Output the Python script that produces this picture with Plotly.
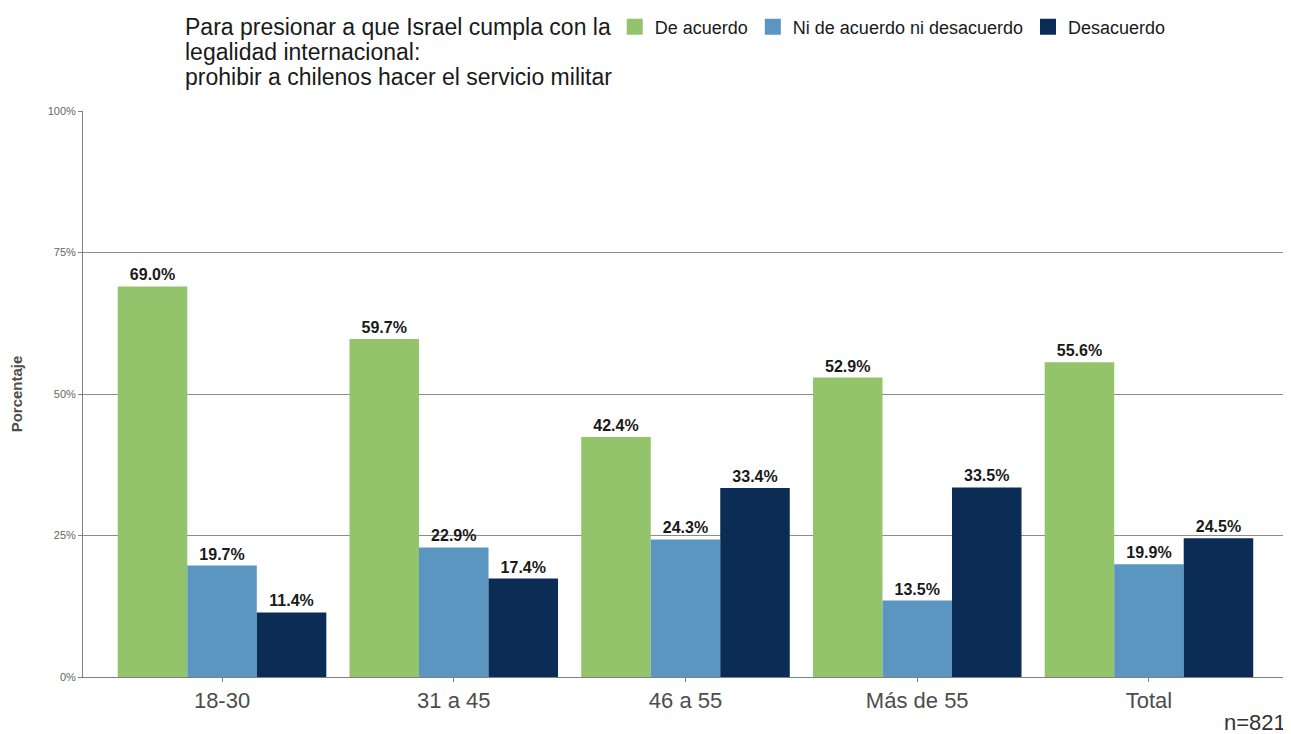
import plotly.graph_objects as go

categories = ["18-30", "31 a 45", "46 a 55", "Más de 55", "Total"]
series_names = ["De acuerdo", "Ni de acuerdo ni desacuerdo", "Desacuerdo"]
de_acuerdo = [69.0, 59.7, 42.4, 52.9, 55.6]
ni_ni = [19.7, 22.9, 24.3, 13.5, 19.9]
desacuerdo = [11.4, 17.4, 33.4, 33.5, 24.5]
colors = ["#93C36B", "#5B96C0", "#0A2C55"]
y_ticks = [0, 25, 50, 75, 100]
y_ticklabels = ["0%", "25%", "50%", "75%", "100%"]
title_lines = ["Para presionar a que Israel cumpla con la",
               "legalidad internacional:",
               "prohibir a chilenos hacer el servicio militar"]

fig = go.Figure()
for name, vals, col in zip(series_names, [de_acuerdo, ni_ni, desacuerdo], colors):
    fig.add_trace(go.Bar(
        x=categories, y=vals, name=name, marker_color=col, marker_line_width=0,
        text=[f"{v:.1f}%" for v in vals], textposition="outside",
        textfont=dict(family="Arial", size=16, color="#1a1a1a", weight="bold"),
        cliponaxis=False, showlegend=False,
    ))
# legend proxies (square swatches)
for name, col in zip(series_names, colors):
    fig.add_trace(go.Scatter(
        x=[None], y=[None], mode="markers", name=name,
        marker=dict(symbol="square", size=20, color=col),
    ))

annotations = []
for i, line in enumerate(title_lines):
    annotations.append(dict(text=line, xref="paper", yref="paper", x=0.083,
                            y=1.148 - i * 0.0442, yanchor="middle", xanchor="left",
                            align="left", showarrow=False,
                            font=dict(size=23, color="#1a1a1a")))
annotations.append(dict(text="n=821", xref="paper", yref="paper", x=1.0, y=-0.081,
                        xanchor="right", yanchor="middle", showarrow=False,
                        font=dict(size=22, color="#333333")))

fig.update_layout(
    width=1291, height=734,
    paper_bgcolor="white", plot_bgcolor="white",
    margin=dict(l=75, r=11, t=103, b=65, autoexpand=False),
    barmode="group", bargap=0.1, bargroupgap=0,
    font=dict(family="Arial", color="#333333"),
    legend=dict(orientation="h", xref="container", yref="container",
                x=0.470, xanchor="left", y=0.974, yanchor="middle",
                font=dict(size=18, color="#1a1a1a"), itemsizing="trace",
                traceorder="normal", bgcolor="rgba(0,0,0,0)"),
    xaxis=dict(range=[-0.6, 4.6], showline=True, linecolor="#808080", linewidth=1,
               ticks="outside", ticklen=4, tickcolor="#808080", automargin=False,
               tickfont=dict(size=22, color="#4d4d4d"), showgrid=False),
    yaxis=dict(range=[0, 100], tickvals=y_ticks, ticktext=y_ticklabels,
               showline=True, linecolor="#808080", linewidth=1, automargin=False,
               ticks="outside", ticklen=4, tickcolor="#808080",
               tickfont=dict(size=11, color="#666666"),
               showgrid=True, gridcolor="#8c8c8c", gridwidth=1, zeroline=False,
               title=dict(text="<b>Porcentaje</b>", font=dict(size=15, color="#4d4d4d"), standoff=28)),
    annotations=annotations,
)
fig.write_html("out.html")
